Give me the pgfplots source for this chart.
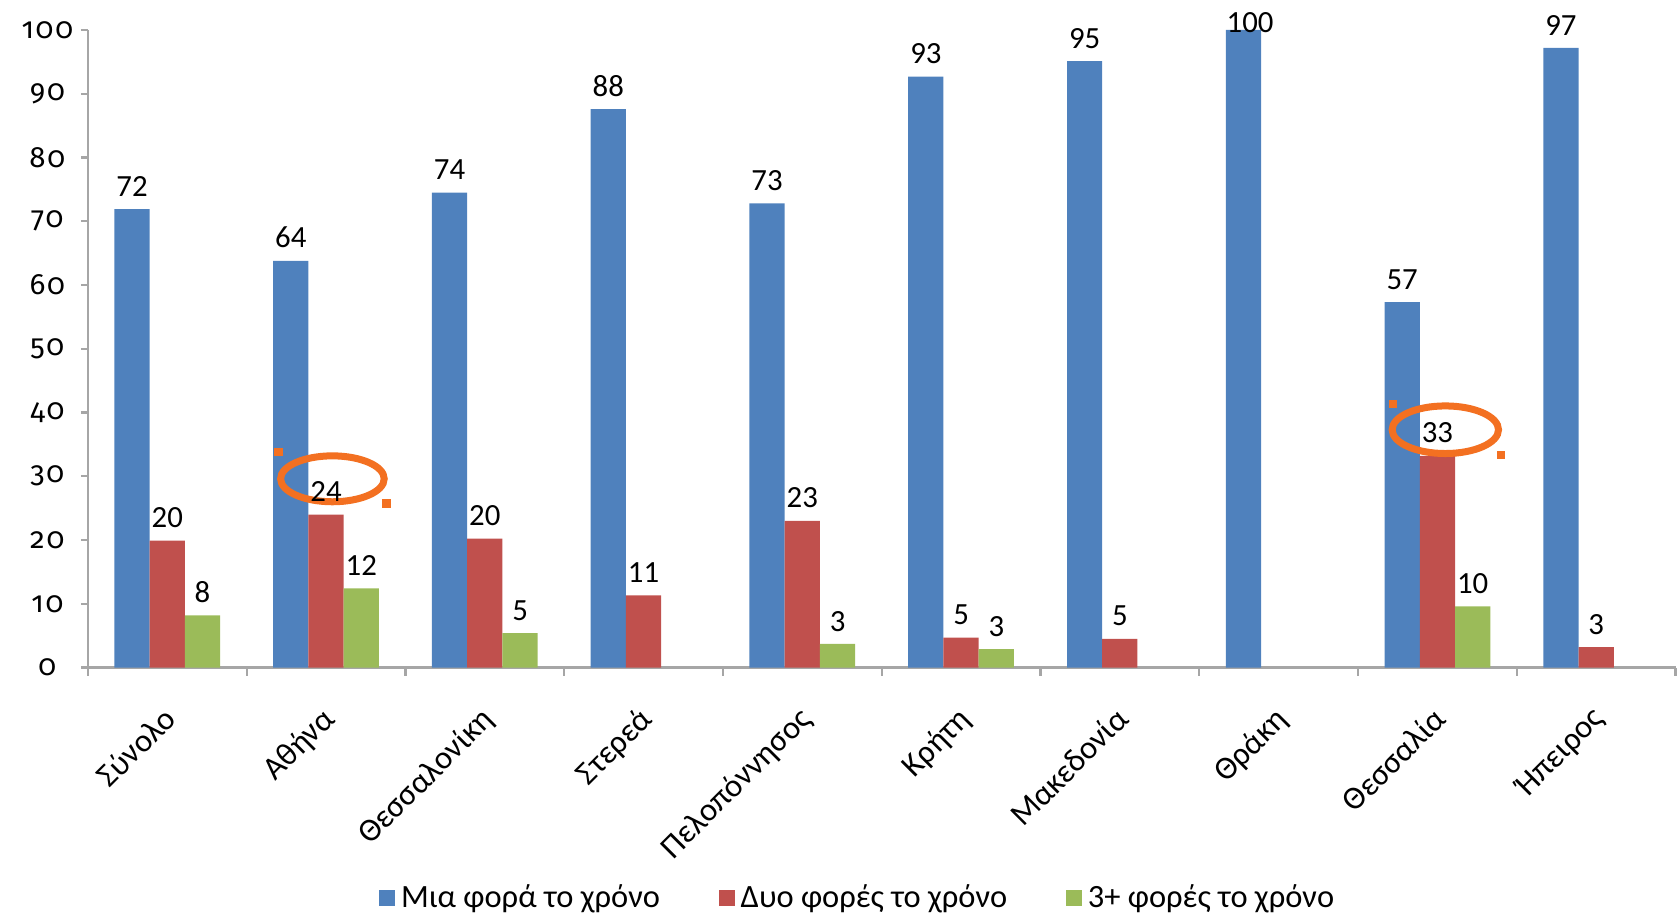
\documentclass[border=0pt]{standalone}
\usepackage{fontspec}
\setmainfont{Carlito}
\newfontfamily\oldnum{Fira Sans}[Numbers=OldStyle, LetterSpace=6]
\usepackage{pgfplots}
\pgfplotsset{compat=1.18}
\definecolor{cblue}{HTML}{4F81BD}
\definecolor{cred}{HTML}{C0504D}
\definecolor{cgreen}{HTML}{9BBB59}
\definecolor{corange}{HTML}{F37021}
\definecolor{axgray}{HTML}{A6A6A6}
\begin{document}
\begin{tikzpicture}
\useasboundingbox (-31.4pt,-89.1pt) rectangle (568.6pt,238.4pt);
\begin{axis}[
  at={(0,0)}, anchor=south west,
  scale only axis,
  width=567pt, height=227.7pt,
  xmin=-0.5, xmax=9.5, ymin=0, ymax=100,
  clip=false,
  ybar=0pt, bar width=0.222,
  axis x line*=bottom, axis y line*=left,
  axis line style={axgray, line width=0.8pt, -},
  tick align=outside,
  xtick={0,...,9},
  xticklabels={Σύνολο,Αθήνα,Θεσσαλονίκη,Στερεά,Πελοπόννησος,Κρήτη,Μακεδονία,Θράκη,Θεσσαλία,Ήπειρος},
  major x tick style={draw=none},
  minor xtick={-0.5,0.5,...,9.5},
  minor x tick style={axgray, line width=0.8pt},
  minor tick length=3pt,
  ytick={0,10,...,100},
  y tick style={axgray, line width=0.8pt},
  major tick length=2.5pt,
  /pgf/number format/assume math mode=true,
  yticklabel style={font=\oldnum\fontsize{10.5}{12}\selectfont, anchor=center, xshift=-12pt},
  xticklabel style={font=\fontsize{11.6}{14}\selectfont, rotate=45, anchor=north east, inner sep=1pt, yshift=-5pt, xshift=-8pt},
  point meta=explicit symbolic,
  nodes near coords,
  every node near coord/.append style={font=\fontsize{11}{13}\selectfont, text=black, anchor=south, yshift=1pt},
  legend style={draw=none, at={(0.486,-0.361)}, anchor=center, font=\fontsize{11.6}{14}\selectfont,
    /tikz/every even column/.append style={column sep=19pt}},
  legend columns=3,
  legend image code/.code={\fill[#1] (0pt,-2.9pt) rectangle (5.8pt,2.9pt);},
]
\addplot[fill=cblue, draw=none] coordinates {
  (0,71.9) [72] (1,63.8) [64] (2,74.5) [74] (3,87.6) [88] (4,72.8) [73]
  (5,92.7) [93] (6,95.1) [95] (7,100) [] (8,57.3) [57] (9,97.2) [97]};
\addplot[fill=cred, draw=none] coordinates {
  (0,19.9) [20] (1,24.0) [24] (2,20.2) [20] (3,11.3) [11] (4,23.0) [23]
  (5,4.7) [5] (6,4.5) [5] (8,33.2) [33] (9,3.2) [3]};
\addplot[fill=cgreen, draw=none] coordinates {
  (0,8.2) [8] (1,12.4) [12] (2,5.4) [5] (4,3.7) [3] (5,2.9) [3] (8,9.6) [10]};
\legend{Μια φορά το χρόνο,Δυο φορές το χρόνο,3+ φορές το χρόνο}
\node[font=\fontsize{11}{13}\selectfont] at (axis cs:6.82,101.2) {100};
\draw[corange, line width=2.5pt] (axis cs:1.04,29.6) ellipse [x radius=18.5pt, y radius=8.2pt];
\fill[corange] (axis cs:0.70,33.8) ++(-1.5pt,-1.5pt) rectangle ++(3pt,3pt);
\fill[corange] (axis cs:1.38,25.7) ++(-1.5pt,-1.5pt) rectangle ++(3pt,3pt);
\draw[corange, line width=2.5pt] (axis cs:8.05,37.3) ellipse [x radius=19pt, y radius=8.5pt];
\fill[corange] (axis cs:7.72,41.3) ++(-1.5pt,-1.5pt) rectangle ++(3pt,3pt);
\fill[corange] (axis cs:8.40,33.3) ++(-1.5pt,-1.5pt) rectangle ++(3pt,3pt);
\end{axis}
\end{tikzpicture}
\end{document}
